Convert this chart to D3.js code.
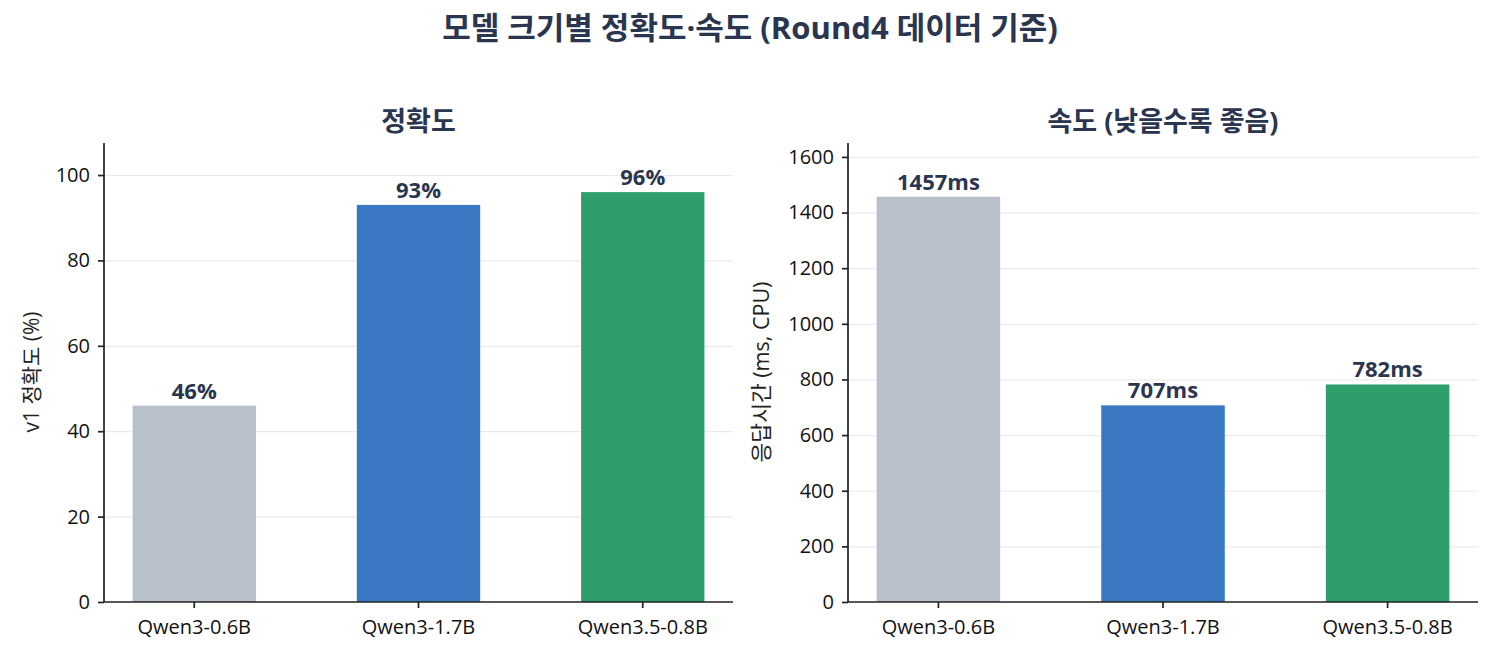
<!DOCTYPE html>
<html>
<head>
<meta charset="utf-8">
<script src="https://cdn.jsdelivr.net/npm/d3@7"></script>
<style>
  body { margin: 0; background: #fff; }
  svg { font-family: "Open Sans", "Noto Sans CJK KR", sans-serif; }
  .grid line { stroke: #ebebeb; stroke-width: 1.2; }
  .grid .domain { display: none; }
  .axis text { font-size: 20px; fill: #111; font-family: "Open Sans", "Noto Sans CJK KR", sans-serif; }
  .axis line, .axis path { stroke: #222; stroke-width: 1.7; }
</style>
</head>
<body>
<svg id="chart" width="1500" height="660"></svg>
<script>
// data
var models = ["Qwen3-0.6B", "Qwen3-1.7B", "Qwen3.5-0.8B"];
var colors = ["#b8c0cc", "#3a78c3", "#2e9e6b"];
var accuracy = [46, 93, 96];
var latency = [1457, 707, 782];
var accTicks = [0, 20, 40, 60, 80, 100];
var latTicks = [0, 200, 400, 600, 800, 1000, 1200, 1400, 1600];

var svg = d3.select("#chart");

svg.append("text")
    .attr("x", 750).attr("y", 39)
    .attr("text-anchor", "middle")
    .style("font-size", "31px").style("font-weight", "bold")
    .style("fill", "#2a3550")
    .text("모델 크기별 정확도·속도 (Round4 데이터 기준)");

/**
 * draws one bar panel
 */
function drawPanel(opt) {
    var g = svg.append("g");
    var x = d3.scaleBand()
        .domain(models)
        .range([opt.left, opt.right])
        .paddingInner(0.45)
        .paddingOuter(0.1275);
    var y = d3.scaleLinear().domain([0, opt.max]).range([602, 143]);

    // grid
    g.append("g").attr("class", "grid")
        .attr("transform", "translate(" + opt.left + ",0)")
        .call(d3.axisLeft(y).tickValues(opt.ticks.filter(t => t > 0))
            .tickSize(-(opt.right - opt.left)).tickFormat(""));

    g.selectAll("rect.bar")
        .data(opt.values)
        .enter().append("rect")
        .attr("class", "bar")
        .attr("x", (d, i) => x(models[i]))
        .attr("width", x.bandwidth())
        .attr("y", d => y(d))
        .attr("height", d => y(0) - y(d))
        .attr("fill", (d, i) => colors[i]);

    g.selectAll("text.val")
        .data(opt.values)
        .enter().append("text")
        .attr("class", "val")
        .attr("x", (d, i) => x(models[i]) + x.bandwidth() / 2)
        .attr("y", d => y(d) - 7)
        .attr("text-anchor", "middle")
        .style("font-size", "22px").style("font-weight", "bold")
        .style("fill", "#2a3550")
        .text(d => d + opt.unit);

    var ya = g.append("g").attr("class", "axis")
        .attr("transform", "translate(" + opt.left + ",0)")
        .call(d3.axisLeft(y).tickValues(opt.ticks).tickFormat(d3.format("d"))
            .tickSize(6).tickPadding(8).tickSizeOuter(0));
    ya.select(".domain").attr("d", "M0,602V143");

    var xa = g.append("g").attr("class", "axis")
        .attr("transform", "translate(0,602)")
        .call(d3.axisBottom(x).tickSize(6).tickSizeOuter(0));
    xa.select(".domain").attr("d", "M" + opt.left + ",0H" + opt.right);
    xa.selectAll("text").attr("y", 32).attr("dy", null);

    g.append("text")
        .attr("x", (opt.left + opt.right) / 2).attr("y", 131)
        .attr("text-anchor", "middle")
        .style("font-size", "27px").style("font-weight", "bold")
        .style("fill", "#2a3550")
        .text(opt.title);

    g.append("text")
        .attr("transform", "translate(" + opt.labelX + ",372) rotate(-90)")
        .attr("text-anchor", "middle")
        .style("font-size", opt.labelSize).style("fill", "#222")
        .text(opt.ylabel);
}

drawPanel({
    left: 104, right: 733, max: 107.5,
    values: accuracy, ticks: accTicks, unit: "%",
    title: "정확도", ylabel: "v1 정확도 (%)", labelX: 39, labelSize: "21px"
});

drawPanel({
    left: 848, right: 1478, max: 1650,
    values: latency, ticks: latTicks, unit: "ms",
    title: "속도 (낮을수록 좋음)", ylabel: "응답시간 (ms, CPU)", labelX: 769, labelSize: "21.5px"
});
</script>
</body>
</html>
